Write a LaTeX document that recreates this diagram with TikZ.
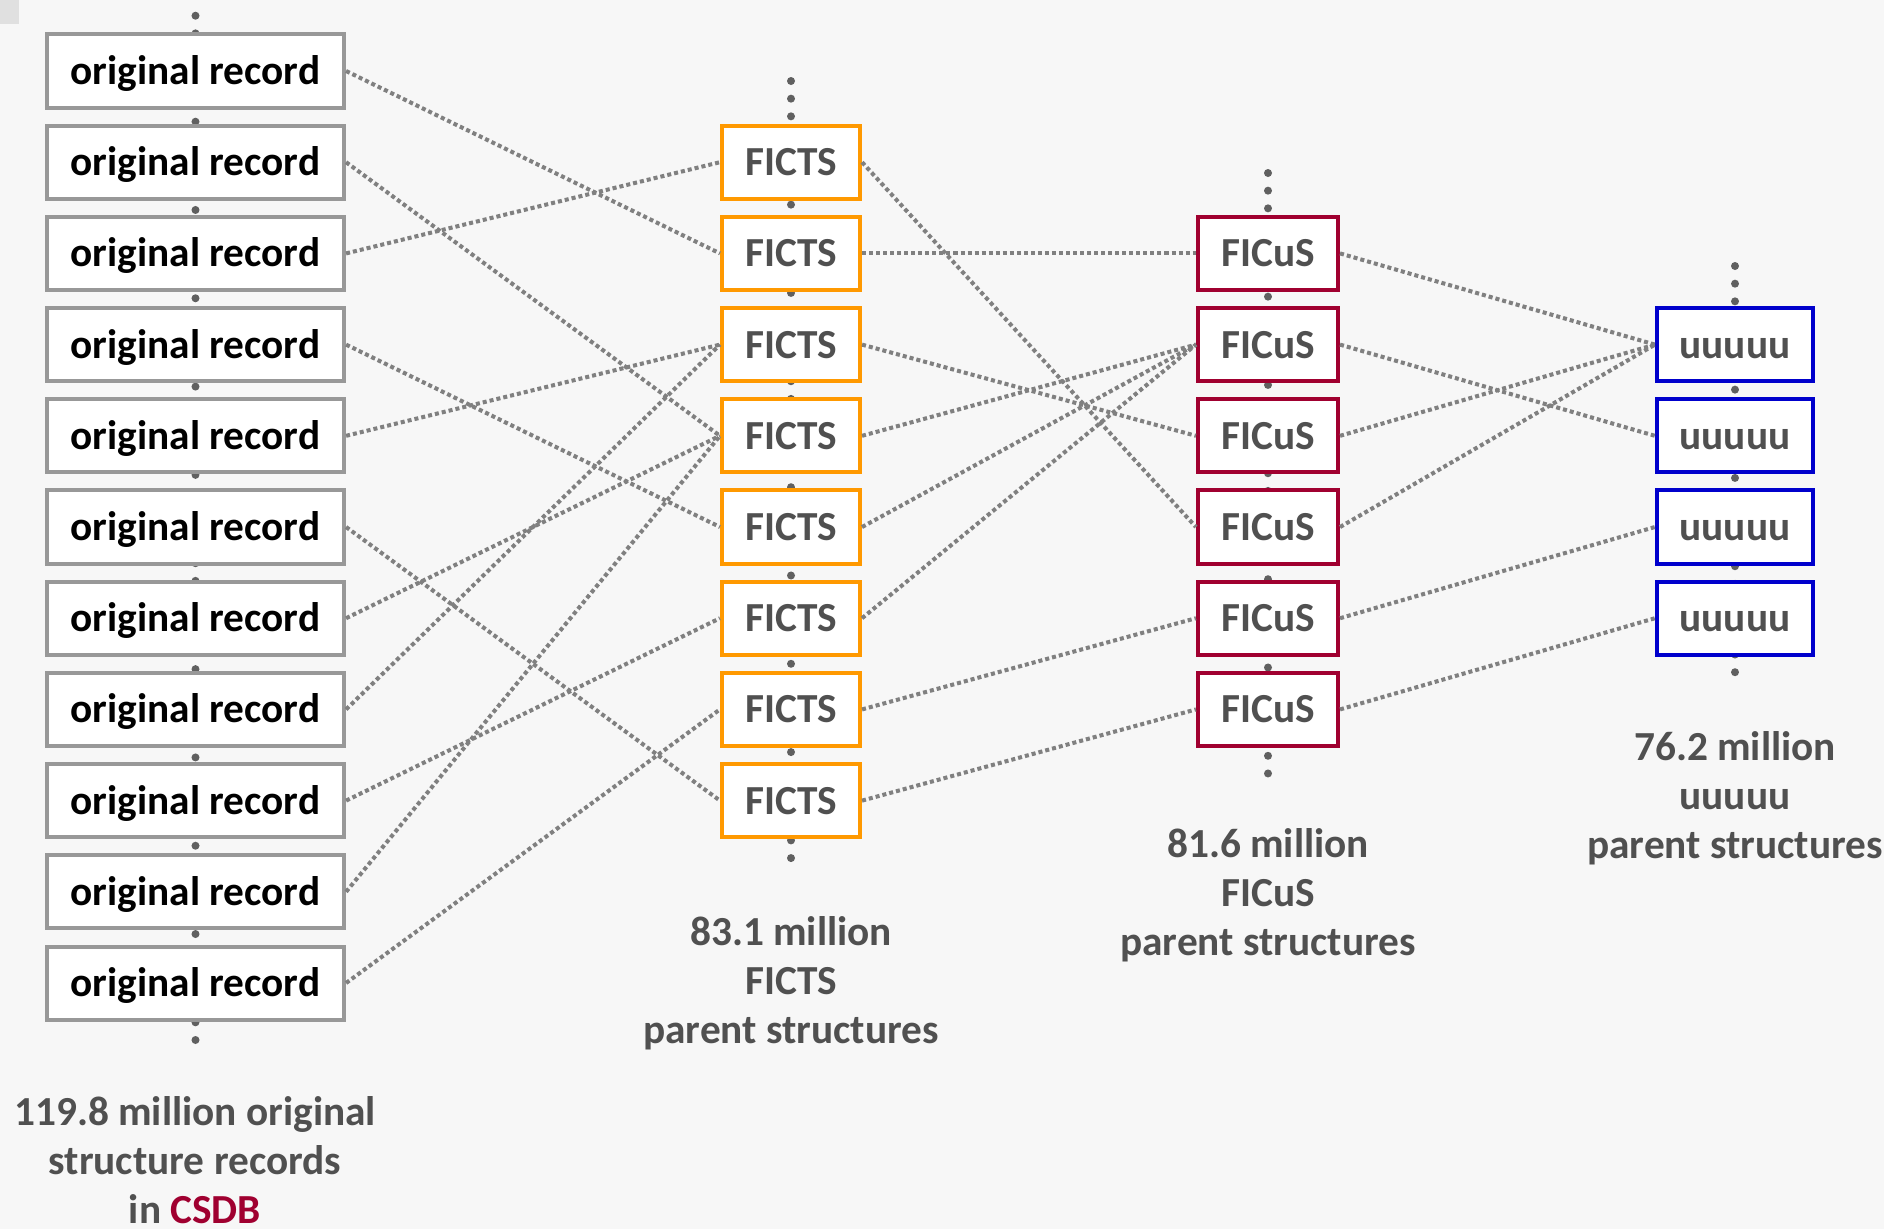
\documentclass[tikz,border=0pt]{standalone}
\usepackage{fontspec}
\setmainfont{Carlito}
\usetikzlibrary{calc}

\definecolor{bggray}{RGB}{247,247,247}
\definecolor{dotgray}{RGB}{96,96,96}
\definecolor{txtgray}{RGB}{80,80,80}
\definecolor{boxgray}{RGB}{152,152,152}
\definecolor{fictsorange}{RGB}{255,153,0}
\definecolor{ficusred}{RGB}{160,0,48}
\definecolor{uublue}{RGB}{0,0,204}
\definecolor{linkgray}{RGB}{128,128,128}

\begin{document}
\begin{tikzpicture}[x=0.01cm,y=-0.01cm,
    rec/.style={draw, fill=white, line width=0.04cm, minimum height=0.73cm,
        inner sep=0pt, text height=0.27cm, text depth=0pt,
        font=\bfseries\fontsize{11.75}{14}\selectfont},
    link/.style={draw=linkgray, line width=1.15pt, dash pattern=on 1.15pt off 0.85pt},
    column/.style={draw=dotgray, line width=0.08cm, line cap=round,
        dash pattern=on 0pt off 0.1765cm},
    caption/.style={align=center, text=txtgray,
        font=\bfseries\fontsize{11.75}{13.9}\selectfont}]
    \useasboundingbox[fill=bggray] (0,0) rectangle (1884,1229);
    \fill[black!12] (0,0) rectangle (19,24);

    % dotted columns behind the boxes
    \draw[column] (195.5,15.7) -- ++(0,{59*17.65});
    \draw[column] (791,81) -- ++(0,{45*17.65});
    \draw[column] (1268,173) -- ++(0,{35*17.65});
    \draw[column] (1735,266) -- ++(0,{24*17.65});

    % one row every 91.2 units, starting at 71
    \foreach \i in {1,...,11} {
        \node[rec, draw=boxgray, minimum width=2.97cm] (rec\i) at (195.5,{71+91.2*(\i-1)}) {original record};
    }
    \foreach \i in {1,...,8} {
        \node[rec, draw=fictsorange, text=txtgray, minimum width=1.38cm] (fi\i) at (791,{71+91.2*\i}) {FICTS};
    }
    \foreach \i in {1,...,6} {
        \node[rec, draw=ficusred, text=txtgray, minimum width=1.40cm] (cu\i) at (1268,{71+91.2*(\i+1)}) {FICuS};
    }
    \foreach \i in {1,...,4} {
        \node[rec, draw=uublue, text=txtgray, minimum width=1.56cm] (uu\i) at (1735,{71+91.2*(\i+2)}) {uuuuu};
    }

    % links between the levels
    \foreach \a/\b in {1/2,2/4,3/1,4/5,5/3,6/8,7/4,8/3,9/6,10/4,11/7} {
        \draw[link] (rec\a.east) -- (fi\b.west);
    }
    \foreach \a/\b in {1/4,2/1,3/3,4/2,5/2,6/2,7/5,8/6} {
        \draw[link] (fi\a.east) -- (cu\b.west);
    }
    \foreach \a/\b in {1/1,2/2,3/1,4/1,5/3,6/4} {
        \draw[link] (cu\a.east) -- (uu\b.west);
    }

    % counts under each column
    \node[caption] (reccap) at (195,1160) {119.8 million original\\structure records\\in \textcolor{ficusred}{CSDB}};
    \node[caption] (ficap) at (791,983) {83.1 million\\FICTS\\parent structures};
    \node[caption] (cucap) at (1268,895) {81.6 million\\FICuS\\parent structures};
    \node[caption] (uucap) at (1735,798) {76.2 million\\uuuuu\\parent structures};
\end{tikzpicture}
\end{document}
